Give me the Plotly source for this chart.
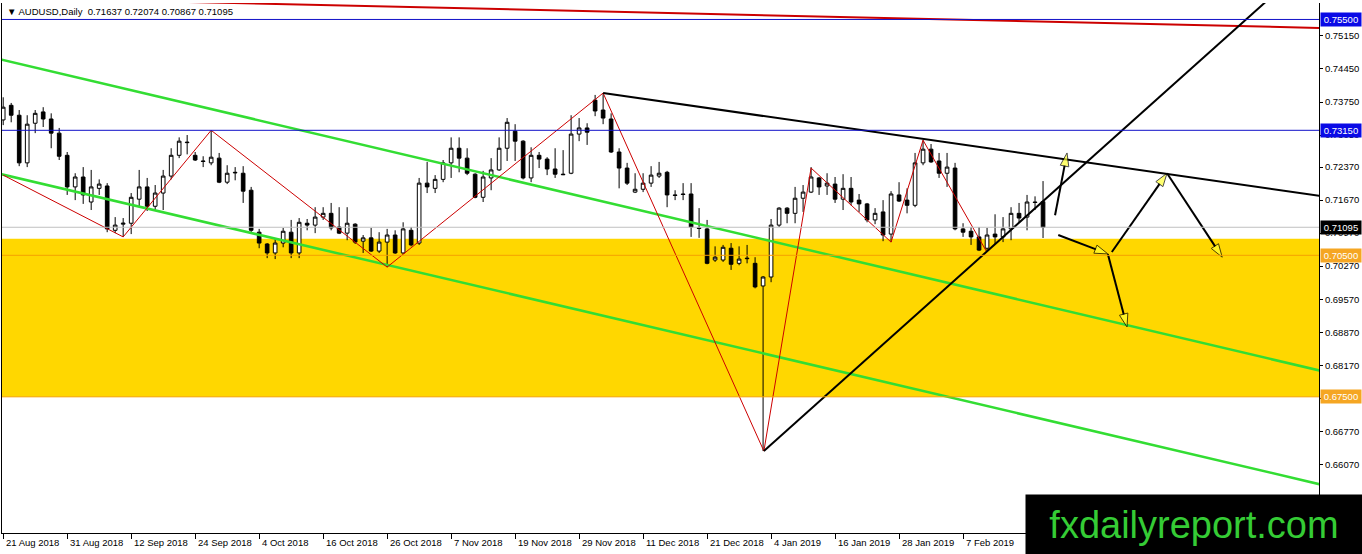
import plotly.graph_objects as go

# daily AUDUSD candles, bar index 0 = 21 Aug 2018
opens = [
    0.7337, 0.7368, 0.7347, 0.7246, 0.7330, 0.7354, 0.7339, 0.7309, 0.7262, 0.7195,
    0.7216, 0.7163, 0.7192, 0.7197, 0.7103, 0.7116, 0.7118, 0.7169, 0.7195, 0.7154,
    0.7182, 0.7218, 0.7262, 0.7290, 0.7262, 0.7250, 0.7246, 0.7256, 0.7205, 0.7226,
    0.7224, 0.7188, 0.7099, 0.7074, 0.7055, 0.7076, 0.7099, 0.7055, 0.7118, 0.7114,
    0.7131, 0.7139, 0.7110, 0.7097, 0.7116, 0.7080, 0.7087, 0.7059, 0.7078, 0.7093,
    0.7055, 0.7103, 0.7076, 0.7203, 0.7192, 0.7211, 0.7246, 0.7277, 0.7256, 0.7222,
    0.7173, 0.7214, 0.7231, 0.7277, 0.7313, 0.7292, 0.7214, 0.7262, 0.7254, 0.7233,
    0.7222, 0.7224, 0.7307, 0.7320, 0.7379, 0.7358, 0.7339, 0.7269, 0.7235, 0.7184,
    0.7190, 0.7203, 0.7218, 0.7226, 0.7178, 0.7180, 0.7180, 0.7108, 0.7106, 0.7040,
    0.7040, 0.7065, 0.7033, 0.7044, 0.7033, 0.6985, 0.7004, 0.7114, 0.7150, 0.7139,
    0.7171, 0.7184, 0.7214, 0.7197, 0.7201, 0.7169, 0.7192, 0.7167, 0.7159, 0.7125,
    0.7142, 0.7095, 0.7178, 0.7167, 0.7156, 0.7246, 0.7275, 0.7250, 0.7224, 0.7235,
    0.7106, 0.7101, 0.7089, 0.7065, 0.7095, 0.7089, 0.7106, 0.7139, 0.7131, 0.7163,
    0.71637,
]
highs = [
    0.7385, 0.7373, 0.7358, 0.7347, 0.7358, 0.7364, 0.7351, 0.7320, 0.7269, 0.7224,
    0.7237, 0.7231, 0.7211, 0.7203, 0.7131, 0.7129, 0.7182, 0.7231, 0.7214, 0.7199,
    0.7231, 0.7277, 0.7300, 0.7305, 0.7269, 0.7260, 0.7315, 0.7267, 0.7241, 0.7237,
    0.7239, 0.7195, 0.7106, 0.7076, 0.7084, 0.7108, 0.7125, 0.7129, 0.7127, 0.7152,
    0.7152, 0.7161, 0.7152, 0.7152, 0.7118, 0.7093, 0.7108, 0.7099, 0.7106, 0.7103,
    0.7120, 0.7110, 0.7214, 0.7248, 0.7220, 0.7252, 0.7300, 0.7300, 0.7277, 0.7224,
    0.7229, 0.7256, 0.7300, 0.7341, 0.7328, 0.7294, 0.7279, 0.7269, 0.7258, 0.7277,
    0.7273, 0.7347, 0.7341, 0.7330, 0.7390, 0.7394, 0.7351, 0.7277, 0.7246, 0.7224,
    0.7224, 0.7239, 0.7248, 0.7229, 0.7188, 0.7203, 0.7203, 0.7150, 0.7125, 0.7069,
    0.7072, 0.7076, 0.7069, 0.7072, 0.7046, 0.7006, 0.7127, 0.7152, 0.7152, 0.7195,
    0.7199, 0.7237, 0.7216, 0.7224, 0.7216, 0.7222, 0.7216, 0.7180, 0.7161, 0.7150,
    0.7167, 0.7186, 0.7205, 0.7192, 0.7267, 0.7294, 0.7286, 0.7267, 0.7267, 0.7246,
    0.7118, 0.7110, 0.7110, 0.7108, 0.7137, 0.7131, 0.7152, 0.7161, 0.7178, 0.7175,
    0.72074,
]
lows = [
    0.7326, 0.7332, 0.7239, 0.7237, 0.7309, 0.7322, 0.7277, 0.7252, 0.7178, 0.7167,
    0.7159, 0.7146, 0.7178, 0.7099, 0.7097, 0.7089, 0.7095, 0.7152, 0.7144, 0.7146,
    0.7146, 0.7211, 0.7256, 0.7264, 0.7250, 0.7237, 0.7241, 0.7203, 0.7201, 0.7209,
    0.7161, 0.7099, 0.7065, 0.7044, 0.7042, 0.7067, 0.7044, 0.7044, 0.7103, 0.7097,
    0.7125, 0.7103, 0.7095, 0.7082, 0.7074, 0.7055, 0.7057, 0.7055, 0.7025, 0.7053,
    0.7053, 0.7069, 0.7072, 0.7182, 0.7182, 0.7205, 0.7214, 0.7226, 0.7220, 0.7171,
    0.7163, 0.7188, 0.7229, 0.7250, 0.7250, 0.7211, 0.7205, 0.7235, 0.7220, 0.7214,
    0.7220, 0.7222, 0.7292, 0.7284, 0.7345, 0.7328, 0.7267, 0.7192, 0.7199, 0.7182,
    0.7184, 0.7195, 0.7214, 0.7152, 0.7167, 0.7167, 0.7089, 0.7087, 0.7031, 0.7036,
    0.7036, 0.7019, 0.7029, 0.7033, 0.6980, 0.6635, 0.6993, 0.7110, 0.7118, 0.7118,
    0.7142, 0.7182, 0.7178, 0.7178, 0.7161, 0.7146, 0.7156, 0.7142, 0.7120, 0.7116,
    0.7080, 0.7078, 0.7163, 0.7139, 0.7152, 0.7241, 0.7246, 0.7214, 0.7195, 0.7103,
    0.7089, 0.7072, 0.7059, 0.7059, 0.7074, 0.7078, 0.7082, 0.7120, 0.7103, 0.7146,
    0.70867,
]
closes = [
    0.7364, 0.7347, 0.7246, 0.7328, 0.7351, 0.7339, 0.7309, 0.7260, 0.7195, 0.7216,
    0.7178, 0.7195, 0.7201, 0.7106, 0.7114, 0.7118, 0.7173, 0.7195, 0.7154, 0.7182,
    0.7218, 0.7262, 0.7292, 0.7289, 0.7252, 0.7249, 0.7258, 0.7205, 0.7224, 0.7225,
    0.7186, 0.7103, 0.7076, 0.7055, 0.7076, 0.7101, 0.7055, 0.7120, 0.7114, 0.7131,
    0.7139, 0.7108, 0.7097, 0.7118, 0.7078, 0.7087, 0.7059, 0.7078, 0.7093, 0.7055,
    0.7106, 0.7072, 0.7203, 0.7195, 0.7211, 0.7246, 0.7277, 0.7256, 0.7224, 0.7173,
    0.7216, 0.7231, 0.7277, 0.7332, 0.7292, 0.7214, 0.7262, 0.7254, 0.7233, 0.7222,
    0.7221, 0.7307, 0.7320, 0.7311, 0.7356, 0.7341, 0.7269, 0.7235, 0.7203, 0.7190,
    0.7203, 0.7220, 0.7224, 0.7178, 0.7177, 0.7179, 0.7110, 0.7107, 0.7033, 0.7046,
    0.7067, 0.7031, 0.7042, 0.7043, 0.6983, 0.7004, 0.7114, 0.7150, 0.7139, 0.7171,
    0.7184, 0.7216, 0.7195, 0.7203, 0.7169, 0.7192, 0.7163, 0.7159, 0.7125, 0.7139,
    0.7093, 0.7180, 0.7165, 0.7156, 0.7246, 0.7275, 0.7248, 0.7224, 0.7237, 0.7106,
    0.7099, 0.7089, 0.7061, 0.7093, 0.7089, 0.7106, 0.7139, 0.7129, 0.7163, 0.7162,
    0.71095,
]
assert len(opens) == len(highs) == len(lows) == len(closes) == 131
bars = list(range(len(opens)))

date_bars = [0, 8, 16, 24, 32, 40, 48, 56, 64, 72, 80, 88, 96, 104, 112, 120]
date_labels = ["21 Aug 2018", "31 Aug 2018", "12 Sep 2018", "24 Sep 2018", "4 Oct 2018",
               "16 Oct 2018", "26 Oct 2018", "7 Nov 2018", "19 Nov 2018", "29 Nov 2018",
               "11 Dec 2018", "21 Dec 2018", "4 Jan 2019", "16 Jan 2019", "28 Jan 2019",
               "7 Feb 2019"]

price_ticks = [0.7515, 0.7445, 0.7375, 0.7305, 0.7237, 0.7167, 0.7097, 0.7027,
               0.6957, 0.6887, 0.6817, 0.6747, 0.6677, 0.6607, 0.6537]

# horizontal levels and their label colours
levels = [0.7550, 0.7315, 0.71095, 0.7050, 0.6750]
level_colors = ["#1010C8", "#1010C8", "#C0C0C0", "#F5A000", "#F5A000"]
label_colors = ["#0A0AE6", "#0A0AE6", "#000000", "#F5A623", "#F5A623"]

zone_top = 0.7085
zone_bottom = 0.6750

# zigzag (bar, price)
zz_bar = [0, 15, 26, 48, 75, 95.1, 101, 111, 115, 122.9]
zz_price = [0.7220, 0.7089, 0.7315, 0.7025, 0.7394, 0.6635, 0.7235, 0.7078, 0.7294, 0.7059]

# channel lines
ch_up_bar, ch_up_price = [-1, 170], [0.7468, 0.6784]
ch_lo_bar, ch_lo_price = [-1, 170], [0.7225, 0.6543]
# black trend lines
tl_down_bar, tl_down_price = [75, 170], [0.7394, 0.7163]
tl_up_bar, tl_up_price = [95.1, 165], [0.6635, 0.7696]
# red long-term line
red_bar, red_price = [0, 170], [0.7596, 0.7530]

# projected arrows (start bar, start price, end bar, end price)
arrows = [
    (131.5, 0.7135, 133.0, 0.7267),
    (131.9, 0.7093, 138.1, 0.7053),
    (138.1, 0.7053, 140.5, 0.6898),
    (138.6, 0.7057, 145.5, 0.7224),
    (145.5, 0.7224, 152.4, 0.7046),
]

FONT = "Liberation Sans, Arial, sans-serif"

fig = go.Figure()

fig.add_trace(go.Candlestick(
    x=bars, open=opens, high=highs, low=lows, close=closes,
    increasing=dict(line=dict(color="black", width=1), fillcolor="white"),
    decreasing=dict(line=dict(color="black", width=1), fillcolor="black"),
    whiskerwidth=0, hoverinfo="skip", showlegend=False,
))

def add_line(xs, ys, color, width):
    fig.add_trace(go.Scatter(x=xs, y=ys, mode="lines", line=dict(color=color, width=width),
                             hoverinfo="skip", showlegend=False))

add_line(red_bar, red_price, "#CC0000", 2)
add_line(ch_up_bar, ch_up_price, "#33DD33", 2.5)
add_line(ch_lo_bar, ch_lo_price, "#33DD33", 2.5)
add_line(zz_bar, zz_price, "#CC0000", 1)
add_line(tl_down_bar, tl_down_price, "black", 2)
add_line(tl_up_bar, tl_up_price, "black", 2)

for x0, y0, x1, y1 in arrows:
    fig.add_trace(go.Scatter(
        x=[x0, x1], y=[y0, y1], mode="lines+markers",
        line=dict(color="black", width=2),
        marker=dict(symbol="arrow", size=[0, 14], angleref="previous",
                    color="#FFFF33", line=dict(color="black", width=1)),
        hoverinfo="skip", showlegend=False,
    ))

shapes = [dict(type="rect", xref="paper", x0=0, x1=1, yref="y", y0=zone_bottom, y1=zone_top,
               fillcolor="#FFD700", line=dict(width=0), layer="below")]
for lv, c in zip(levels, level_colors):
    shapes.append(dict(type="line", xref="paper", x0=0, x1=1, yref="y", y0=lv, y1=lv,
                       line=dict(color=c, width=1), layer="above"))

annotations = []
for lv, c in zip(levels, label_colors):
    annotations.append(dict(xref="paper", x=1, xanchor="left", xshift=1, yref="y", y=lv,
                            text=f"{lv:.5f}", showarrow=False, bgcolor=c, width=38,
                            borderpad=1, font=dict(family=FONT, size=9.5, color="white")))
for b, lab in zip(date_bars, date_labels):
    annotations.append(dict(xref="x", x=b, xanchor="left", xshift=1, yref="paper", y=0,
                            yanchor="top", yshift=-2, text=lab, showarrow=False,
                            font=dict(family=FONT, size=9.5, color="black")))
annotations.append(dict(xref="paper", x=0, xanchor="left", xshift=3, yref="paper", y=1,
                        yanchor="top", yshift=-1, showarrow=False,
                        text="\u25bc AUDUSD,Daily\u00a0\u00a00.71637 0.72074 0.70867 0.71095",
                        font=dict(family=FONT, size=9.5, color="black")))
annotations.append(dict(xref="paper", x=0.905, xanchor="center", yref="paper", y=0.016,
                        yanchor="middle", width=336, height=59, bgcolor="black", borderpad=0,
                        showarrow=False, text="fxdailyreport.com",
                        font=dict(family=FONT, size=38, color="#35CC35")))

fig.update_layout(
    width=1362,
    height=554,
    margin=dict(l=2, r=43, t=3, b=21),
    plot_bgcolor="white",
    paper_bgcolor="white",
    showlegend=False,
    boxgap=0.35,
    shapes=shapes,
    annotations=annotations,
)

fig.update_xaxes(
    range=[-0.15, 164.5],
    showgrid=False, zeroline=False,
    showline=True, linecolor="black", linewidth=1,
    ticks="outside", tickvals=date_bars, ticklen=5, tickcolor="black",
    showticklabels=False,
    rangeslider=dict(visible=False),
)
fig.update_yaxes(
    side="right",
    range=[0.64613, 0.75849],
    showgrid=False, zeroline=False,
    showline=True, mirror=True, linecolor="black", linewidth=1,
    ticks="outside", ticklen=3, tickcolor="black",
    tickvals=price_ticks, ticktext=[f"{v:.5f}" for v in price_ticks],
    tickfont=dict(family=FONT, size=9.5, color="black"),
)

# page body margin would shift the figure inside the window
fig.write_html("out.html", config={"displayModeBar": False},
               post_script="document.body.style.margin='0';document.body.style.overflow='hidden';")
